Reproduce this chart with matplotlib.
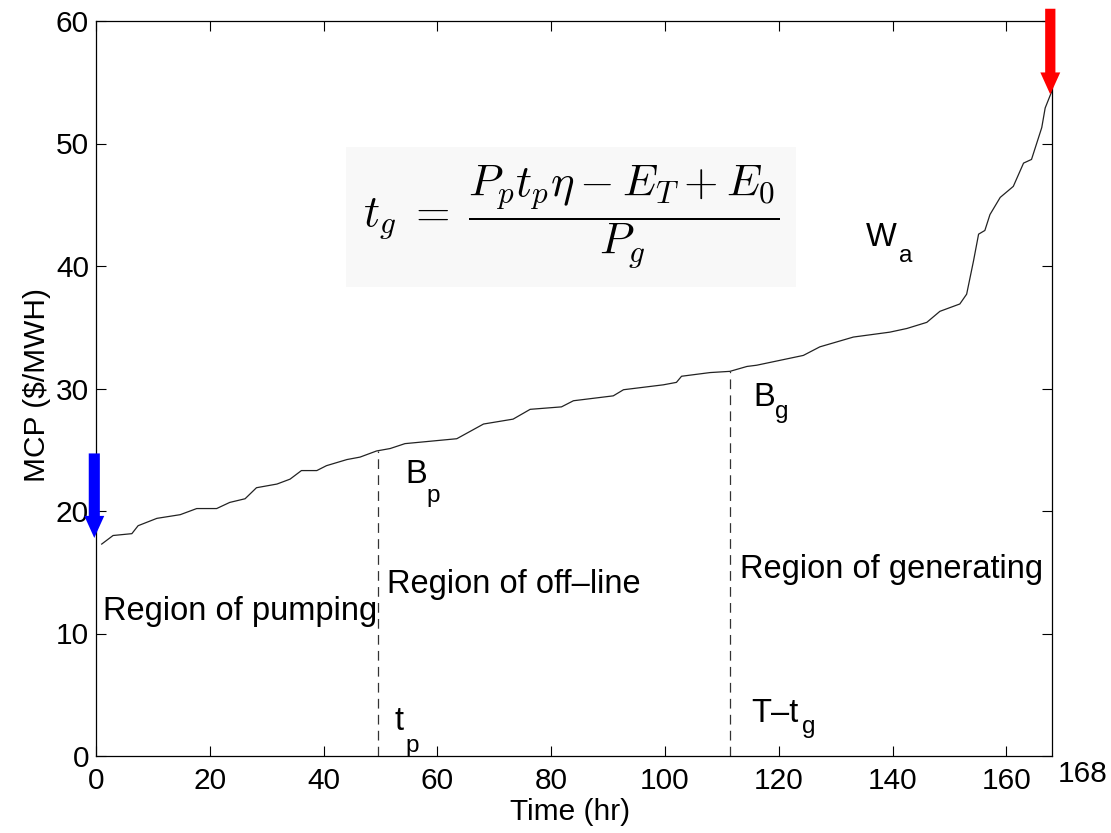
import matplotlib
matplotlib.use('Agg')
import matplotlib.pyplot as plt

# price duration curve (sorted MCP over one week)
hours = [1.0, 3.0, 6.3, 7.4, 10.7, 14.8, 17.7, 21.2, 23.5, 26.2, 28.2, 31.8,
         34.1, 36.1, 38.8, 40.5, 44.1, 46.4, 49.3, 51.7, 54.3, 63.4, 68.1,
         73.3, 76.3, 81.8, 83.9, 90.9, 92.7, 99.7, 102.0, 102.9, 107.9, 111.4,
         114.4, 116.1, 124.3, 127.2, 133.1, 139.5, 142.5, 146.0, 148.3, 151.8,
         153.0, 154.2, 155.1, 156.2, 157.1, 158.9, 161.2, 163.0, 164.4, 166.2,
         166.8, 168.0]
mcp = [17.3, 18.0, 18.15, 18.8, 19.4, 19.7, 20.2, 20.2, 20.7, 21.0, 21.9, 22.2,
       22.6, 23.3, 23.3, 23.7, 24.2, 24.4, 24.9, 25.1, 25.5, 25.9, 27.1,
       27.5, 28.3, 28.5, 29.0, 29.4, 29.9, 30.3, 30.5, 31.0, 31.3, 31.4,
       31.8, 31.9, 32.7, 33.4, 34.2, 34.6, 34.9, 35.4, 36.3, 36.9,
       37.7, 40.4, 42.6, 42.9, 44.2, 45.6, 46.5, 48.4, 48.7, 51.3,
       52.9, 54.3]

T = 168
t_p = 49.5          # end of pumping
T_minus_tg = 111.5  # start of generating
B_p = 24.9
B_g = 31.4

# arrows: (x, start, end)
blue_arrow = (-0.3, 24.7, 17.8)
red_arrow = (167.7, 61.0, 54.0)

xticks = [0, 20, 40, 60, 80, 100, 120, 140, 160]
yticks = [0, 10, 20, 30, 40, 50, 60]

plt.rcParams['font.family'] = ['Liberation Sans', 'DejaVu Sans']
plt.rcParams['mathtext.fontset'] = 'cm'
plt.rcParams['lines.scale_dashes'] = False

fig = plt.figure(figsize=(11.11, 8.33), dpi=100)
ax = fig.add_axes([96/1111, 1-756/833, (1052-96)/1111, (756-21)/833])

ax.plot(hours, mcp, color='#222222', lw=0.9)
ax.plot([t_p, t_p], [0, B_p], color='#333333', lw=0.9, dashes=(7, 4.5))
ax.plot([T_minus_tg, T_minus_tg], [0, B_g], color='#333333', lw=0.9, dashes=(7, 4.5))

ax.set_xlim(0, T)
ax.set_ylim(0, 60)
ax.set_xticks(xticks)
ax.set_yticks(yticks)
ax.tick_params(direction='in', length=7, width=0.8, top=True, right=True, labelsize=21.5)
ax.tick_params(axis='x', pad=8)
ax.tick_params(axis='y', pad=5)
for s in ax.spines.values():
    s.set_linewidth(0.9)

ax.annotate('168', xy=(T, 0), xytext=(4, -3), textcoords='offset points',
            ha='left', va='top', fontsize=21.5, annotation_clip=False)

fig.text(37/1111, 1-385/833, 'MCP ($/MWH)', rotation=90, ha='center', va='center', fontsize=21.5)
fig.text(570/1111, 1-812/833, 'Time (hr)', ha='center', va='center', fontsize=21.5)

# region labels
fs = 23.5
ax.text(1.2, 11.1, 'Region of pumping', fontsize=fs, va='baseline')
ax.text(51.1, 13.3, 'Region of off\u2013line', fontsize=fs, va='baseline')
ax.text(113.2, 14.5, 'Region of generating', fontsize=fs, va='baseline', clip_on=False)

# point labels with MATLAB-style subscripts
sub = 17.5
ax.text(54.3, 22.27, 'B', fontsize=fs, va='baseline')
ax.text(58.0, 20.77, 'p', fontsize=sub, va='baseline')
ax.text(115.5, 28.6, 'B', fontsize=fs, va='baseline')
ax.text(119.4, 27.6, 'g', fontsize=sub, va='baseline')
ax.text(52.5, 2.1, 't', fontsize=fs, va='baseline')
ax.text(54.3, 0.33, 'p', fontsize=sub, va='baseline')
ax.text(115.2, 2.78, 'T\u2013t', fontsize=fs, va='baseline')
ax.text(124.0, 1.85, 'g', fontsize=sub, va='baseline')
ax.text(135.3, 41.6, 'W', fontsize=fs, va='baseline')
ax.text(141.2, 40.3, 'a', fontsize=sub, va='baseline')

ax.text(83.5, 44.0, r'$t_g\;=\;\dfrac{P_p t_p \eta - E_T + E_0}{P_g}$', fontsize=32,
        ha='center', va='center',
        bbox=dict(facecolor='#f8f8f8', edgecolor='none', pad=12))

for (x, y0, y1), c, w in [(blue_arrow, 'blue', 1.95), (red_arrow, 'red', 1.8)]:
    ax.arrow(x, y0, 0, y1 - y0, width=w, head_width=3.5, head_length=1.8,
             length_includes_head=True, color=c, ec='none', clip_on=False, zorder=5)

fig.savefig('out.png', dpi=100)
